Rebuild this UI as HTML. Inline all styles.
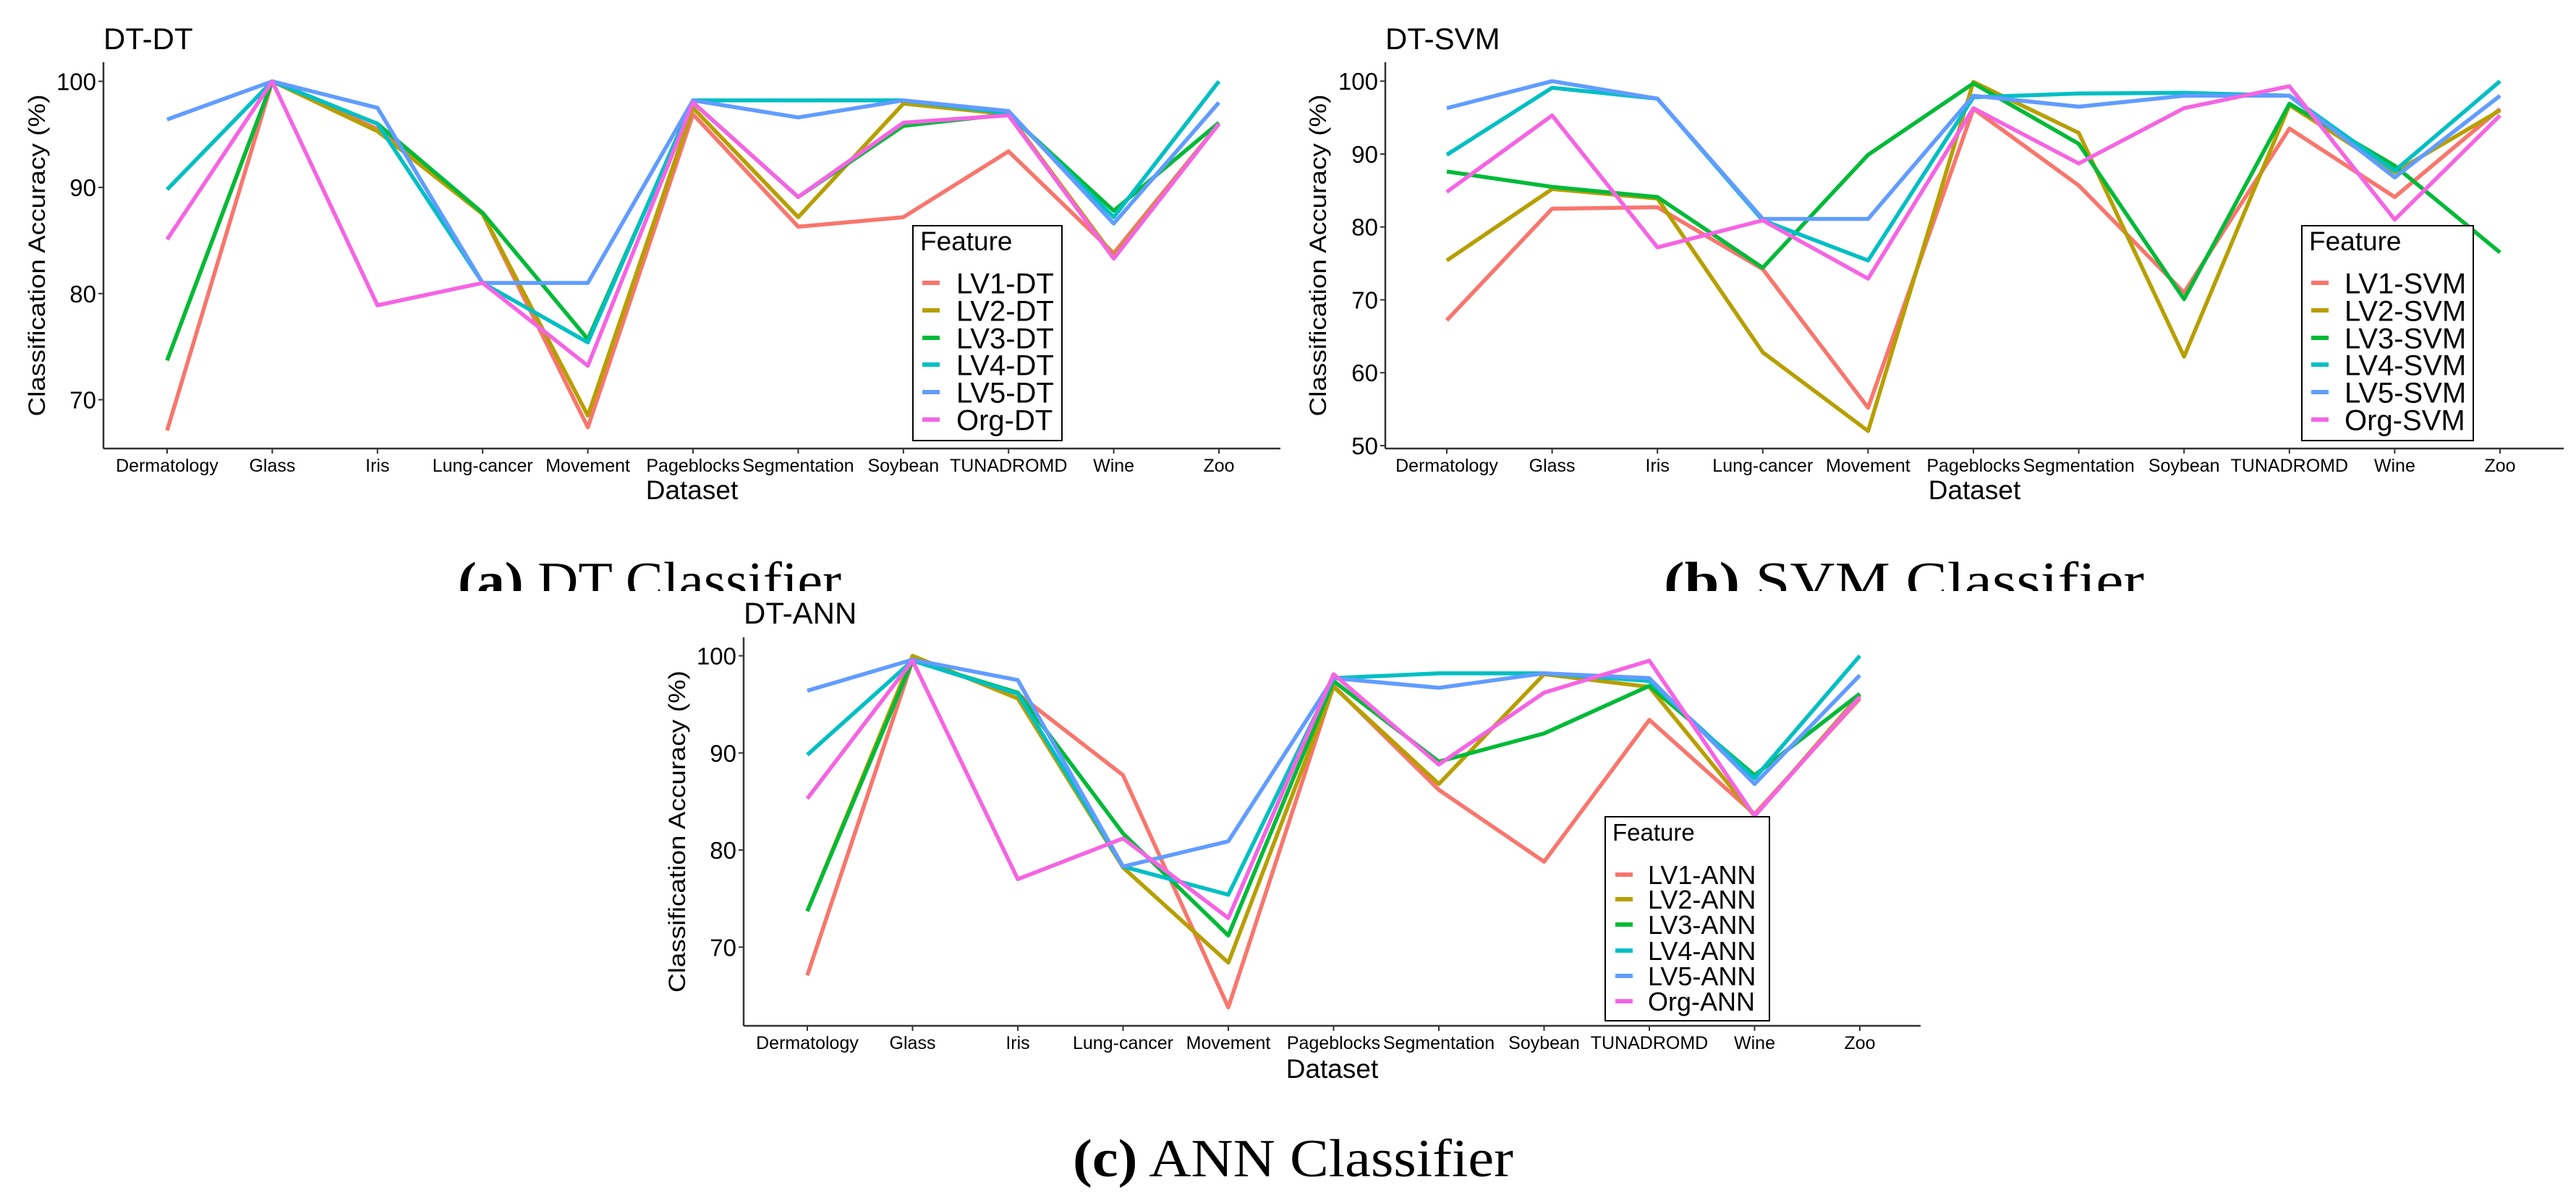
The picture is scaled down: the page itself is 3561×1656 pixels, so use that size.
<!DOCTYPE html>
<html><head><meta charset="utf-8">
<style>
html,body{margin:0;padding:0;background:#fff;}
svg{display:block;}
text{font-family:"Liberation Sans",Arial,sans-serif;fill:#000;}
.cap{font-family:"Liberation Serif",serif;}
</style></head>
<body>
<svg id="fig" width="3561" height="1656" viewBox="0 0 3561 1656" xmlns="http://www.w3.org/2000/svg">
<rect width="3561" height="1656" fill="#fff"/>
<text class="cap" x="633" y="828" font-size="74" textLength="530" lengthAdjust="spacingAndGlyphs"><tspan font-weight="bold">(a)</tspan> DT Classifier</text>
<text class="cap" x="2300" y="828" font-size="74" textLength="664" lengthAdjust="spacingAndGlyphs"><tspan font-weight="bold">(b)</tspan> SVM Classifier</text>
<rect x="0" y="817" width="3561" height="60" fill="#fff"/>
<text class="cap" x="1483" y="1626" font-size="74" textLength="609" lengthAdjust="spacingAndGlyphs"><tspan font-weight="bold">(c)</tspan> ANN Classifier</text>
<g id="panels"></g>
</svg>
<script>
const categories = ["Dermatology","Glass","Iris","Lung-cancer","Movement","Pageblocks","Segmentation","Soybean","TUNADROMD","Wine","Zoo"];
const seriesColors = ["#F8766D","#B79F00","#00BA38","#00BFC4","#619CFF","#F564E3"];
const dtLabels = ["LV1-DT","LV2-DT","LV3-DT","LV4-DT","LV5-DT","Org-DT"];
const svmLabels = ["LV1-SVM","LV2-SVM","LV3-SVM","LV4-SVM","LV5-SVM","Org-SVM"];
const annLabels = ["LV1-ANN","LV2-ANN","LV3-ANN","LV4-ANN","LV5-ANN","Org-ANN"];
const dtTicks = [70,80,90,100];
const svmTicks = [50,60,70,80,90,100];
const annTicks = [70,80,90,100];
// DT panel
const dtLV1 = [67.1,100,95.5,87.5,67.4,96.9,86.3,87.2,93.4,83.8,96.0];
const dtLV2 = [73.7,100,95.3,87.5,68.5,97.5,87.2,97.9,96.9,83.5,96.0];
const dtLV3 = [73.7,100,96.0,87.6,75.7,98.0,89.1,95.8,96.9,87.8,96.1];
const dtLV4 = [89.8,100,96.0,81.0,75.4,98.2,98.2,98.2,97.0,87.2,100];
const dtLV5 = [96.4,100,97.5,81.0,81.0,98.2,96.6,98.2,97.2,86.6,98.0];
const dtOrg = [85.1,100,78.9,81.0,73.2,98.0,89.1,96.1,96.8,83.3,96.0];
// SVM panel
const svmLV1 = [67.2,82.5,82.7,74.2,55.2,96.2,85.7,71.0,93.5,84.1,96.2];
const svmLV2 = [75.4,85.2,83.9,62.8,52.0,99.9,92.9,62.2,96.7,87.5,96.0];
const svmLV3 = [87.6,85.5,84.1,74.4,89.9,99.7,91.4,70.1,96.9,88.4,76.5];
const svmLV4 = [89.9,99.1,97.6,80.9,75.4,97.8,98.3,98.4,98.0,87.7,100];
const svmLV5 = [96.3,100,97.6,81.1,81.1,98.0,96.5,98.0,98.0,86.8,98.0];
const svmOrg = [84.8,95.3,77.2,80.9,72.9,96.3,88.7,96.3,99.3,81.0,95.3];
// ANN panel
const annLV1 = [67.1,99.5,96.1,87.7,63.8,96.9,86.2,78.8,93.4,83.7,95.6];
const annLV2 = [73.7,100,95.6,78.2,68.4,96.8,86.8,98.1,96.8,83.5,96.0];
const annLV3 = [73.7,99.5,96.2,81.7,71.2,97.4,89.1,92.0,96.9,87.7,96.1];
const annLV4 = [89.8,99.5,96.1,78.3,75.4,97.7,98.2,98.2,97.4,87.4,100];
const annLV5 = [96.4,99.6,97.5,78.3,80.9,97.7,96.7,98.2,97.7,86.8,98.0];
const annOrg = [85.3,99.5,77.0,81.2,73.0,98.1,88.8,96.2,99.5,83.5,95.8];

const NS="http://www.w3.org/2000/svg";
const root=document.getElementById('panels');
function mk(tag,attrs,parent){const e=document.createElementNS(NS,tag);for(const k in attrs)e.setAttribute(k,attrs[k]);(parent||root).appendChild(e);return e;}

const panels=[
 {key:"dt",title:"DT-DT",series:[dtLV1,dtLV2,dtLV3,dtLV4,dtLV5,dtOrg],labels:dtLabels,ticks:dtTicks,
  ax:143,axR:1770,ay:620,top:86,x0:231,x1:1685,ymin:65.4,ymax:101.8,titleX:143,titleY:68,ylabX:51,
  leg:{x:1262,y:312,w:206,h:297,feat:346,rows:[391,429,467,504,542,580],kx:1275,tx:1322,fs:40},tickY:652,dsY:690},
 {key:"svm",title:"DT-SVM",series:[svmLV1,svmLV2,svmLV3,svmLV4,svmLV5,svmOrg],labels:svmLabels,ticks:svmTicks,
  ax:1915,axR:3544,ay:620,top:86,x0:2000,x1:3456,ymin:49.6,ymax:102.6,titleX:1915,titleY:68,ylabX:1822,
  leg:{x:3182,y:312,w:237,h:297,feat:346,rows:[391,429,467,504,542,580],kx:3195,tx:3241,fs:40},tickY:652,dsY:690},
 {key:"ann",title:"DT-ANN",series:[annLV1,annLV2,annLV3,annLV4,annLV5,annOrg],labels:annLabels,ticks:annTicks,
  ax:1028,axR:2655,ay:1418,top:881,x0:1116,x1:2571,ymin:61.9,ymax:101.9,titleX:1028,titleY:862,ylabX:936,
  leg:{x:2219,y:1129,w:227,h:282,feat:1162,rows:[1209,1243,1278,1314,1349,1384],kx:2233,tx:2278,fs:36},tickY:1450,dsY:1490}
];

panels.forEach(p=>{
  const g=mk('g',{});
  
  
  const xs=i=>p.x0+(p.x1-p.x0)*i/(categories.length-1);
  const ys=v=>p.ay-(v-p.ymin)/(p.ymax-p.ymin)*(p.ay-p.top);
  const t=mk('text',{x:p.titleX,y:p.titleY,'font-size':42},g);t.textContent=p.title;
  
  
  // axes
  const yax=mk('line',{x1:p.ax,y1:p.top,x2:p.ax,y2:p.ay,stroke:'#333',"stroke-width":2.5},g);
  
  
  const xax=mk('line',{x1:p.ax,y1:p.ay,x2:p.axR,y2:p.ay,stroke:'#333',"stroke-width":2.5},g);
  
  
  p.ticks.forEach(v=>{
    mk('line',{x1:p.ax-7,y1:ys(v),x2:p.ax,y2:ys(v),stroke:'#333',"stroke-width":2},g);
    const tl=mk('text',{x:p.ax-10,y:ys(v)+12,'font-size':33,'text-anchor':'end',fill:'#222'},g);tl.textContent=v;
    
    
  });
  categories.forEach((c,i)=>{
    mk('line',{x1:xs(i),y1:p.ay,x2:xs(i),y2:p.ay+7,stroke:'#333',"stroke-width":2},g);
    const tl=mk('text',{x:xs(i),y:p.tickY,'font-size':25,'text-anchor':'middle',fill:'#222'},g);tl.textContent=c;
    
    
  });
  const ds=mk('text',{x:(p.ax+p.axR)/2,y:p.dsY,'font-size':37,'text-anchor':'middle'},g);ds.textContent='Dataset';
  
  
  const cy=(p.top+p.ay)/2;
  const yl=mk('text',{x:0,y:0,'font-size':32,'text-anchor':'middle',transform:`translate(${p.ylabX+11},${cy}) rotate(-90)`,textLength:445,lengthAdjust:'spacingAndGlyphs'},g);
  yl.textContent='Classification Accuracy (%)';
  
  
  // series
  p.series.forEach((arr,si)=>{
    const pts=arr.map((v,i)=>xs(i).toFixed(1)+','+ys(v).toFixed(1)).join(' ');
    const pl=mk('polyline',{points:pts,fill:'none',stroke:seriesColors[si],'stroke-width':5.5,'stroke-linejoin':'round'},g);
    
    
  });
  // legend
  const L=p.leg;
  const lg=mk('g',{},g);
  
  
  mk('rect',{x:L.x,y:L.y,width:L.w,height:L.h,fill:'#fff',stroke:'#000','stroke-width':2},lg);
  const ft=mk('text',{x:L.x+10,y:L.feat,'font-size':L.fs-3},lg);ft.textContent='Feature';
  
  
  p.labels.forEach((lab,si)=>{
    const r=L.rows[si];
    mk('line',{x1:L.kx,y1:r,x2:L.kx+24,y2:r,stroke:seriesColors[si],'stroke-width':6},lg);
    const et=mk('text',{x:L.tx,y:r+L.fs*0.36,'font-size':L.fs},lg);et.textContent=lab;
    
    
  });
});
</script>
</body></html>
